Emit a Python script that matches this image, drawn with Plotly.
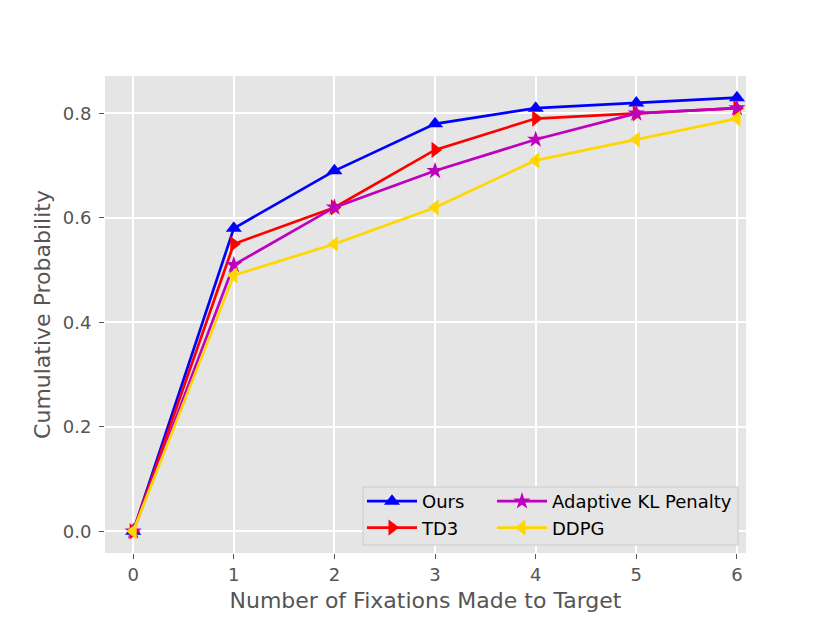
import plotly.graph_objects as go

fixations = [0, 1, 2, 3, 4, 5, 6]
ours = [0.0, 0.58, 0.69, 0.78, 0.81, 0.82, 0.83]
td3 = [0.0, 0.55, 0.62, 0.73, 0.79, 0.80, 0.81]
adaptive_kl = [0.0, 0.51, 0.62, 0.69, 0.75, 0.80, 0.81]
ddpg = [0.0, 0.49, 0.55, 0.62, 0.71, 0.75, 0.79]
y_ticks = [0.0, 0.2, 0.4, 0.6, 0.8]

series = [
    ("Ours", ours, "#0000FF", "triangle-up", 14, "legend"),
    ("TD3", td3, "#FF0000", "triangle-right", 14, "legend"),
    ("Adaptive KL Penalty", adaptive_kl, "#BF00BF", "star", 13, "legend2"),
    ("DDPG", ddpg, "#FFD700", "triangle-left", 14, "legend2"),
]

fig = go.Figure()
for name, vals, color, sym, msize, lg in series:
    fig.add_trace(go.Scatter(
        x=fixations, y=vals, name=name, mode="lines+markers",
        line=dict(color=color, width=2.7),
        marker=dict(symbol=sym, size=msize, color=color, line=dict(width=0)),
        legend=lg,
    ))

W, H = 830, 623
OFF = 8  # page body offset
ml, mr, mt, mb = 97, 92, 68, 78
pw = W - ml - mr
ph = H - mt - mb

def px_to_paper_x(px):
    return (px - OFF - ml) / pw

def px_to_paper_y(py):
    return (OFF + H - mb - py) / ph

legend_font = dict(family="DejaVu Sans", size=18, color="black")
tick_font = dict(family="DejaVu Sans", size=18, color="#555555")
title_font = dict(family="DejaVu Sans", size=22, color="#555555")

fig.update_layout(
    width=W, height=H,
    margin=dict(l=ml, r=mr, t=mt, b=mb),
    paper_bgcolor="white",
    plot_bgcolor="#E5E5E5",
    showlegend=True,
    legend=dict(
        x=px_to_paper_x(362), y=px_to_paper_y(483), xanchor="left", yanchor="top",
        bgcolor="rgba(0,0,0,0)", borderwidth=0, font=legend_font,
        tracegroupgap=0, itemwidth=50,
    ),
    legend2=dict(
        x=px_to_paper_x(492), y=px_to_paper_y(483), xanchor="left", yanchor="top",
        bgcolor="rgba(0,0,0,0)", borderwidth=0, font=legend_font,
        tracegroupgap=0, itemwidth=50,
    ),
    xaxis=dict(
        range=[-0.28, 6.09], tickmode="array", tickvals=fixations,
        ticktext=[str(v) for v in fixations],
        showgrid=True, gridcolor="white", gridwidth=1.5,
        zeroline=False, showline=False,
        ticks="outside", ticklen=5, tickwidth=1, tickcolor="#555555",
        tickfont=tick_font,
        title=dict(text="Number of Fixations Made to Target", font=title_font, standoff=9),
    ),
    yaxis=dict(
        range=[-0.0415, 0.8715], tickmode="array", tickvals=y_ticks,
        ticktext=[f"{v:.1f}" for v in y_ticks],
        showgrid=True, gridcolor="white", gridwidth=1.5,
        zeroline=False, showline=False,
        ticks="outside", ticklen=5, tickwidth=1, tickcolor="#555555",
        tickfont=tick_font, ticklabelstandoff=4,
        title=dict(text="Cumulative Probability", font=title_font, standoff=6),
    ),
    shapes=[dict(
        type="rect", xref="paper", yref="paper", layer="above",
        x0=px_to_paper_x(363), x1=px_to_paper_x(738),
        y0=px_to_paper_y(545), y1=px_to_paper_y(487),
        fillcolor="#E5E5E5", line=dict(color="#CCCCCC", width=1),
    )],
)

fig.write_html("out.html")
